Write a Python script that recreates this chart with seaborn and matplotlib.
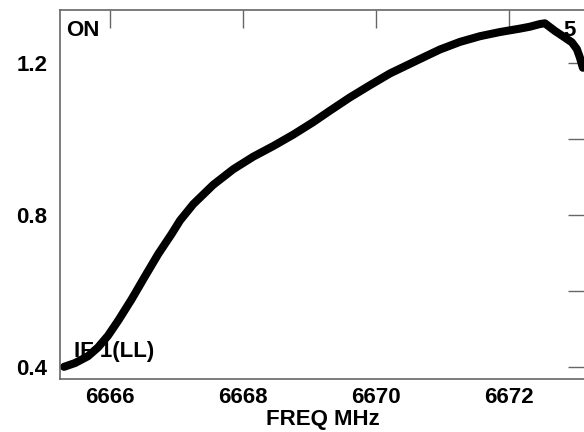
import matplotlib
matplotlib.use("Agg")
import matplotlib.pyplot as plt
import seaborn as sns
import pandas as pd

freq = [6665.308, 6665.474, 6665.669, 6665.819, 6665.970, 6666.125, 6666.326, 6666.526,
        6666.726, 6666.928, 6667.053, 6667.252, 6667.553, 6667.854, 6668.155, 6668.456,
        6668.756, 6669.057, 6669.308, 6669.609, 6669.910, 6670.211, 6670.662, 6670.962,
        6671.263, 6671.564, 6671.865, 6672.166, 6672.316, 6672.466, 6672.541, 6672.692,
        6672.812, 6672.947, 6673.023, 6673.068, 6673.113]
flux = [0.400, 0.410, 0.428, 0.451, 0.482, 0.522, 0.578, 0.638,
        0.697, 0.750, 0.785, 0.828, 0.879, 0.920, 0.953, 0.981,
        1.011, 1.044, 1.074, 1.109, 1.141, 1.172, 1.210, 1.235,
        1.255, 1.270, 1.281, 1.290, 1.295, 1.302, 1.304, 1.284,
        1.270, 1.254, 1.236, 1.214, 1.187]
xticks = [6666, 6668, 6670, 6672]
yticks = [0.4, 0.8, 1.2]
yminor = [0.6, 1.0]

sns.set_style("white")
plt.rcParams['font.family'] = ['Liberation Sans', 'DejaVu Sans']
plt.rcParams['text.color'] = 'black'

df = pd.DataFrame({"freq": freq, "flux": flux})
fig = plt.figure(figsize=(5.84, 4.32), dpi=100)
ax = fig.add_axes([60/584, 1 - 379/432, 526/584, 369/432])
sns.lineplot(data=df, x="freq", y="flux", ax=ax, color="black", linewidth=5.8,
             sort=False, solid_joinstyle="round", solid_capstyle="round")
ax.set_xlim(6665.248, 6673.16)
ax.set_ylim(0.368, 1.339)
ax.set_xticks(xticks)
ax.set_xticklabels([str(t) for t in xticks])
ax.set_yticks(yticks)
ax.set_yticklabels([f"{t:.1f}" for t in yticks])
ax.set_yticks(yminor, minor=True)
ax.tick_params(axis="both", which="both", direction="in", length=13, width=1,
               color="#666666", top=True, right=True, labelsize=16,
               labelcolor="black")
ax.tick_params(axis="x", pad=5.5)
ax.tick_params(axis="y", pad=9)
for lab in ax.get_xticklabels() + ax.get_yticklabels():
    lab.set_fontweight("bold")
for s in ax.spines.values():
    s.set_color("#666666")
    s.set_linewidth(1.2)
ax.set_xlabel("FREQ MHz", fontsize=16, fontweight="bold", color="black")
ax.xaxis.set_label_coords(0.5, -0.082)
ax.set_ylabel("")
ax.text(66/584, 1 - 30/432, "ON", transform=fig.transFigure, fontsize=16,
        fontweight="bold", va="center", ha="left")
ax.text(563/584, 1 - 30/432, "5", transform=fig.transFigure, fontsize=16,
        fontweight="bold", va="center", ha="left")
ax.text(74/584, 1 - 352/432, "IF 1(LL)", transform=fig.transFigure, fontsize=16,
        fontweight="bold", va="center", ha="left", zorder=1)
fig.savefig("out.png", dpi=100)
